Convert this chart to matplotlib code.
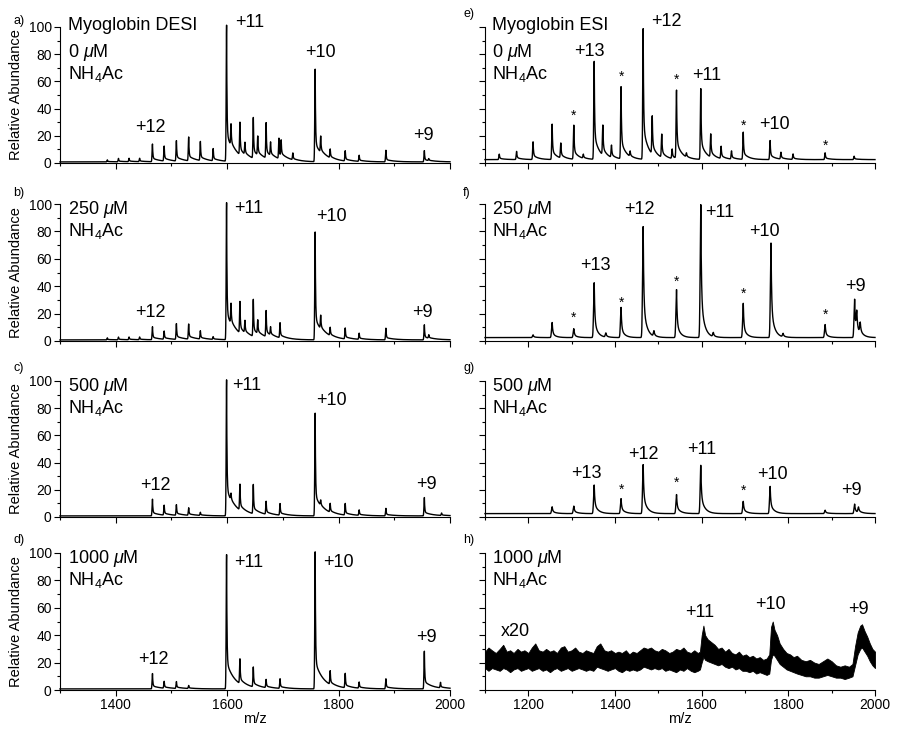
import numpy as np
import matplotlib.pyplot as plt
from matplotlib.ticker import MultipleLocator, FixedLocator, NullFormatter

plt.rcParams['font.family'] = ['Liberation Sans', 'DejaVu Sans']
plt.rcParams['mathtext.fontset'] = 'custom'
plt.rcParams['mathtext.rm'] = 'Liberation Sans'
plt.rcParams['mathtext.it'] = 'Liberation Sans:italic'

# DESI spectra (left column): peak m/z and relative heights
a_mz = [1385, 1405, 1424, 1443, 1466, 1487, 1509, 1531, 1552, 1575, 1599, 1607, 1623, 1632,
        1647, 1655, 1670, 1678, 1693, 1697, 1718, 1758, 1768, 1785, 1812, 1837, 1885, 1954, 1962]
a_int = [1.5, 2.5, 2.5, 2.5, 13, 11, 15, 17.5, 14, 9, 100, 16, 24, 9,
         30, 14, 26, 10, 15, 12, 5, 68, 12, 6.5, 7.5, 4.5, 8.5, 8.3, 1.5]

b_mz = [1385, 1405, 1424, 1443, 1466, 1487, 1509, 1531, 1552, 1575, 1599, 1607, 1623, 1632,
        1647, 1655, 1670, 1678, 1695, 1758, 1768, 1785, 1812, 1837, 1885, 1954, 1962]
b_int = [1.5, 2, 2, 2, 9.5, 6, 11.5, 11, 6, 2, 100, 15, 23, 9,
         27, 10, 19, 6, 11, 78.7, 10, 6, 8, 4.5, 8.5, 11, 2.5]

c_mz = [1466, 1487, 1509, 1531, 1552, 1599, 1607, 1623, 1647, 1670, 1695,
        1758, 1768, 1785, 1812, 1837, 1885, 1954, 1985]
c_int = [12.3, 7.3, 7.8, 5.5, 2.3, 100, 5, 19, 21.5, 9.5, 8.5,
         75.5, 4, 6.5, 8.5, 4, 5.5, 13.5, 1.8]

d_mz = [1466, 1487, 1509, 1531, 1599, 1623, 1647, 1670, 1695,
        1758, 1785, 1812, 1837, 1885, 1954, 1983]
d_int = [11.2, 5, 5, 2.2, 98, 18, 14.5, 6, 7,
         100, 10, 10.5, 4.5, 7.3, 27.5, 4]

# ESI spectra (right column)
e_mz = [1133, 1173, 1211, 1255, 1275, 1305, 1327, 1352, 1372, 1392, 1414, 1435, 1465, 1486,
        1508, 1532, 1542, 1565, 1598, 1621, 1645, 1669, 1696, 1758, 1783, 1811, 1885, 1952]
e_int = [4, 6, 13, 26, 11, 25, 3, 72, 22, 9, 53, 4, 96, 28,
         17, 7, 50, 3, 52, 17, 9, 6, 20, 14, 5, 4, 5, 2.5]

f_mz = [1211, 1255, 1305, 1352, 1379, 1414, 1465, 1490, 1542, 1598, 1627,
        1696, 1760, 1788, 1885, 1953, 1958, 1966]
f_int = [2, 11, 6.5, 40, 3, 22, 81, 4, 35, 97, 3,
         25, 69, 2.5, 9.5, 28, 15, 8]

g_mz = [1255, 1305, 1352, 1414, 1465, 1542, 1598, 1696, 1758, 1885, 1953, 1962]
g_int = [5, 5.5, 21, 11, 36, 14, 35.5, 9, 20, 2.5, 7, 4]

# panel h (x20): lower/upper edge of the noisy trace
h_mz = [1100, 1108, 1116, 1125, 1134, 1142, 1150, 1158, 1166, 1175, 1183, 1191, 1200, 1208,
        1216, 1224, 1233, 1241, 1250, 1258, 1266, 1275, 1283, 1291, 1300, 1308, 1316, 1325,
        1333, 1341, 1350, 1358, 1366, 1375, 1383, 1391, 1400, 1408, 1416, 1425, 1433, 1441,
        1450, 1458, 1466, 1475, 1483, 1491, 1500, 1508, 1516, 1525, 1533, 1541, 1550, 1558,
        1566, 1575, 1583, 1591, 1596, 1600, 1604, 1608, 1614, 1622, 1630, 1638, 1646, 1654,
        1662, 1670, 1678, 1686, 1694, 1702, 1710, 1718, 1726, 1734, 1742, 1750, 1756, 1760,
        1764, 1768, 1774, 1780, 1788, 1796, 1804, 1812, 1820, 1830, 1840, 1850, 1860, 1870,
        1880, 1890, 1900, 1910, 1920, 1930, 1940, 1948, 1954, 1960, 1966, 1970, 1976, 1982,
        1988, 1994, 2000]
h_low = [16, 14, 16, 15, 14, 16, 15, 13, 15, 16, 14, 15, 16, 14,
         15, 16, 14, 15, 13, 15, 16, 14, 15, 16, 14, 15, 16, 15,
         14, 15, 14, 17, 16, 15, 14, 15, 16, 14, 13, 15, 14, 15,
         14, 15, 17, 16, 15, 16, 15, 16, 14, 15, 14, 13, 15, 14,
         16, 14, 13, 14, 15, 20, 24, 22, 21, 20, 19, 18, 19, 17,
         16, 17, 15, 16, 14, 14, 13, 14, 12, 13, 12, 11, 12, 22,
         26, 25, 22, 19, 17, 15, 14, 13, 12, 11, 10, 10, 9, 9,
         10, 11, 10, 9, 9, 8, 9, 10, 18, 26, 30, 31, 28, 25,
         21, 18, 16]
h_high = [28, 31, 29, 27, 30, 33, 28, 29, 27, 30, 28, 29, 27, 31,
          34, 29, 28, 30, 28, 29, 27, 31, 32, 28, 29, 31, 28, 27,
          29, 28, 27, 32, 34, 29, 28, 29, 27, 28, 27, 29, 26, 28,
          27, 29, 31, 30, 31, 29, 28, 30, 29, 27, 28, 30, 29, 31,
          28, 27, 29, 27, 28, 40, 47, 40, 37, 35, 33, 30, 31, 28,
          30, 27, 26, 28, 25, 26, 24, 25, 23, 24, 22, 23, 26, 46,
          50, 44, 40, 34, 30, 27, 26, 24, 25, 22, 21, 22, 20, 19,
          21, 23, 21, 18, 17, 18, 17, 19, 32, 42, 47, 48, 43, 39,
          34, 30, 28]

labels_a = [("+12", 1463, 26), ("+11", 1641, 103), ("+10", 1767, 81), ("+9", 1952, 20)]
labels_b = [("+12", 1462, 21), ("+11", 1638, 97), ("+10", 1788, 91), ("+9", 1951, 21)]
labels_c = [("+12", 1472, 23), ("+11", 1635, 97), ("+10", 1788, 86), ("+9", 1958, 24)]
labels_d = [("+12", 1467, 22), ("+11", 1638, 93), ("+10", 1800, 93), ("+9", 1958, 38)]
labels_e = [("+13", 1341, 82), ("+12", 1519, 104), ("+11", 1611, 64), ("+10", 1769, 28)]
labels_f = [("+13", 1354, 55), ("+12", 1456, 96), ("+11", 1642, 94), ("+10", 1746, 80), ("+9", 1956, 39.5)]
labels_g = [("+13", 1335, 32), ("+12", 1465, 46), ("+11", 1600, 49.5), ("+10", 1764, 31), ("+9", 1946, 19.5)]
labels_h = [("+11", 1595, 56.6), ("+10", 1758, 62.7), ("+9", 1961, 58.5), ("x20", 1171, 42.4)]

stars_e = [(1305, 38), (1414, 66.7), (1542, 64), (1696, 30.4), (1885, 15.3)]
stars_f = [(1305, 20), (1414, 31), (1542, 46), (1696, 37.5), (1885, 22)]
stars_g = [(1414, 23), (1542, 28.5), (1696, 22)]


def spectrum(x, mz, inten, w, frac, tail, base):
    y = np.full_like(x, base)
    for m, h in zip(mz, inten):
        d = x - m
        dr = np.clip(d, 0, None)
        left = np.exp(-0.5 * (d / w) ** 2)
        right = (1 - frac) * np.exp(-dr / w) + frac * np.exp(-dr / tail)
        y += h * np.where(d < 0, left, right)
    return y


fig = plt.figure(figsize=(9, 7.29), dpi=100)
W, H = 900.0, 729.0
rows = [(27, 163), (204, 341), (381, 517), (553, 690)]


def make_ax(col, row):
    top, bot = rows[row]
    x0 = 60 if col == 0 else 485
    ax = fig.add_axes([x0 / W, 1 - bot / H, 390 / W, (bot - top) / H])
    for s in ["top", "right"]:
        ax.spines[s].set_visible(False)
    ax.set_ylim(0, 100)
    ax.yaxis.set_major_locator(MultipleLocator(20))
    ax.yaxis.set_minor_locator(MultipleLocator(10))
    if col == 0:
        ax.set_xlim(1300, 2000)
        ax.xaxis.set_major_locator(FixedLocator([1400, 1600, 1800, 2000]))
        ax.xaxis.set_minor_locator(FixedLocator([1300, 1500, 1700, 1900]))
        ax.set_ylabel("Relative Abundance", fontsize=10.5)
        ax.yaxis.set_label_coords(-0.095, 0.5)
    else:
        ax.set_xlim(1100, 2000)
        ax.xaxis.set_major_locator(MultipleLocator(200))
        ax.xaxis.set_minor_locator(FixedLocator([1100, 1300, 1500, 1700, 1900]))
        ax.yaxis.set_major_formatter(NullFormatter())
    ax.tick_params(which="major", direction="out", length=4, width=0.8, labelsize=10, pad=2)
    ax.tick_params(which="minor", direction="out", length=2.5, width=0.8)
    if row < 3:
        ax.xaxis.set_major_formatter(NullFormatter())
    else:
        ax.set_xlabel("m/z", fontsize=10.5, labelpad=0)
    for s in ["left", "bottom"]:
        ax.spines[s].set_linewidth(0.8)
    return ax


def header(ax, lines, col):
    tr = ax.get_yaxis_transform()
    x = 0.02 if col == 0 else 0.017
    ys = [101, 81, 65.5] if len(lines) == 3 else [96.3, 80]
    for t, yy in zip(lines, ys):
        ax.text(x, yy, t, transform=tr, ha="left", va="center", fontsize=13)


def letter(ax, s, dy):
    ax.text(-47 / 390 if s in "abcd" else -22 / 390, 1 + dy / 136, s + ")",
            transform=ax.transAxes, ha="left", va="center", fontsize=9)


x_left = np.union1d(np.arange(1300, 2000.01, 0.25), a_mz + b_mz + c_mz + d_mz)
x_right = np.union1d(np.arange(1100, 2000.01, 0.25), e_mz + f_mz + g_mz)

nh = r"NH$_4$Ac"
panels = [
    (0, 0, a_mz, a_int, labels_a, ["Myoglobin DESI", r"0 $\mu$M", nh], "a", 6),
    (0, 1, b_mz, b_int, labels_b, [r"250 $\mu$M", nh], "b", 11),
    (0, 2, c_mz, c_int, labels_c, [r"500 $\mu$M", nh], "c", 13),
    (0, 3, d_mz, d_int, labels_d, [r"1000 $\mu$M", nh], "d", 13),
]
for col, row, mz, inten, labs, head, let, dy in panels:
    ax = make_ax(col, row)
    y = spectrum(x_left, mz, inten, 0.7, 0.2, 15, 0.8)
    ax.plot(x_left, y, color="black", lw=1.0, clip_on=False)
    for t, xx, yy in labs:
        ax.text(xx, yy, t, ha="center", va="center", fontsize=13)
    header(ax, head, col)
    letter(ax, let, dy)

rpanels = [
    (1, 0, e_mz, e_int, labels_e, stars_e, ["Myoglobin ESI", r"0 $\mu$M", nh], "e", 13, 1.0, 0.25, 12),
    (1, 1, f_mz, f_int, labels_f, stars_f, [r"250 $\mu$M", nh], "f", 11, 1.4, 0.3, 8),
    (1, 2, g_mz, g_int, labels_g, stars_g, [r"500 $\mu$M", nh], "g", 13, 1.4, 0.35, 9),
]
for col, row, mz, inten, labs, stars, head, let, dy, w, fr, tl in rpanels:
    ax = make_ax(col, row)
    y = spectrum(x_right, mz, inten, w, fr, tl, 2.5)
    ax.plot(x_right, y, color="black", lw=1.0, clip_on=False)
    for t, xx, yy in labs:
        ax.text(xx, yy, t, ha="center", va="center", fontsize=13)
    for xx, yy in stars:
        ax.text(xx, yy - 3, "*", ha="center", va="center", fontsize=10)
    header(ax, head, col)
    letter(ax, let, dy)

ax = make_ax(1, 3)
ax.fill_between(h_mz, h_low, h_high, color="black", lw=0.6)
for t, xx, yy in labels_h:
    ax.text(xx, yy, t, ha="center", va="center", fontsize=13)
header(ax, [r"1000 $\mu$M", nh], 1)
letter(ax, "h", 13)

fig.savefig("out.png", dpi=100)
